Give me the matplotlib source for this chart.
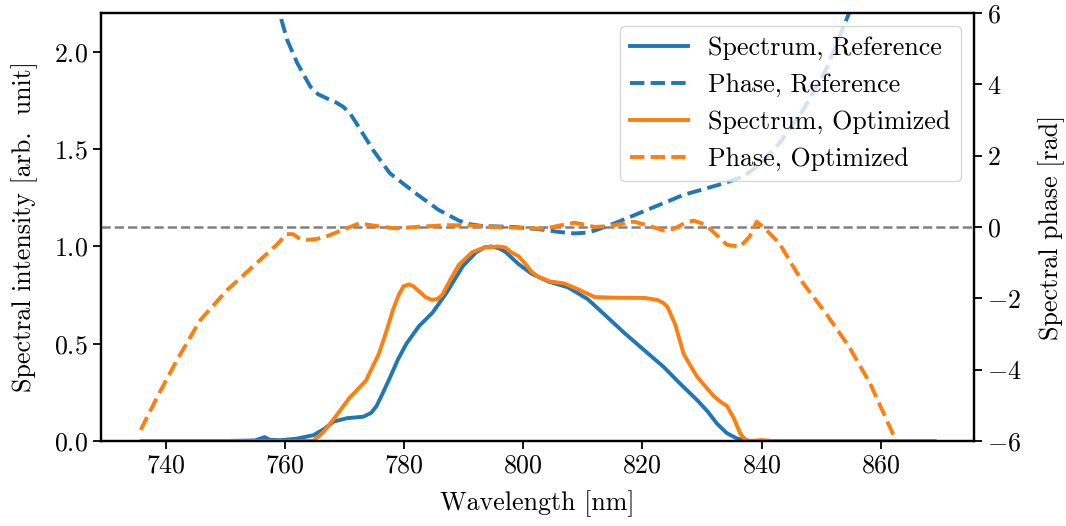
import matplotlib
matplotlib.use('Agg')
import matplotlib.pyplot as plt

# spectra (wavelength in nm, intensity in arb. unit)
wl_spec_ref = [736, 750, 755, 756.6, 757.5, 759.3, 762, 764.8, 766.5, 768.2, 770.4, 773.2,
               774.5, 775.4, 776.5, 777.7, 779, 780.4, 782.5, 784.8, 787.1, 789.9, 792.1,
               793.5, 794.6, 796, 797.1, 799.2, 801.4, 804.2, 807.5, 810.8, 814, 817, 820,
               823.6, 826.5, 829.2, 831, 832.5, 834.2, 835.8, 837.5, 845, 869]
spec_ref = [0, 0, 0.003, 0.02, 0.006, 0.004, 0.012, 0.03, 0.06, 0.10, 0.117, 0.125,
            0.145, 0.18, 0.25, 0.33, 0.42, 0.50, 0.59, 0.66, 0.76, 0.90, 0.97,
            0.995, 1.00, 0.99, 0.97, 0.91, 0.86, 0.82, 0.79, 0.73, 0.64, 0.555, 0.475,
            0.38, 0.29, 0.21, 0.15, 0.09, 0.04, 0.014, 0.0, 0, 0]

wl_spec_opt = [736, 764.7, 766.3, 768.1, 770.8, 773.6, 775.8, 777, 778.1, 779.1, 779.9,
               780.8, 781.6, 782.5, 783.6, 784.7, 785.6, 786.4, 787.8, 789.2, 791.4, 793.5,
               795.8, 797, 798, 799.2, 800.4, 801.4, 802.5, 804.5, 806.9, 809.2, 812, 815,
               818, 820.5, 822.5, 823.5, 824.2, 825.5, 826.9, 828, 829.2, 832, 833.2,
               834.2, 835.3, 836.4, 837.2, 838, 840, 842, 869]
spec_opt = [0, 0, 0.04, 0.108, 0.22, 0.31, 0.45, 0.56, 0.67, 0.75, 0.795,
            0.805, 0.795, 0.77, 0.74, 0.725, 0.73, 0.75, 0.83, 0.905, 0.97, 0.995,
            1.0, 0.995, 0.97, 0.95, 0.91, 0.87, 0.845, 0.82, 0.81, 0.78, 0.74, 0.737,
            0.736, 0.735, 0.725, 0.71, 0.69, 0.6, 0.45, 0.39, 0.33, 0.23, 0.20,
            0.18, 0.12, 0.04, 0.01, 0.0, 0.005, 0.0, 0]

# spectral phase (rad)
wl_phase_ref = [757, 758, 759.1, 760.4, 762.1, 764.3, 765.6, 767, 768.5, 769.8, 771, 772,
                774.8, 777.6, 782, 785.8, 789.2, 791, 793, 798.6, 803.6, 806, 808.6, 810.5,
                812, 815.3, 820.8, 826.9, 833.6, 837, 839.2, 841, 843, 847, 850.8, 854.7,
                856.5]
phase_ref = [7.5, 6.8, 6.0, 5.24, 4.59, 3.93, 3.72, 3.61, 3.5, 3.37, 3.17, 2.91,
             2.16, 1.51, 0.94, 0.48, 0.18, 0.08, 0.03, 0.0, -0.08, -0.14, -0.18, -0.16,
             -0.1, 0.1, 0.48, 0.9, 1.22, 1.42, 1.69, 1.98, 2.35, 3.28, 4.4, 6.0,
             7.0]

wl_phase_opt = [735.8, 738.6, 741.9, 745.8, 750.3, 755.8, 758.5, 760.3, 761.4, 762.4, 763.6,
                765.2, 766.9, 770.3, 772.5, 775.3, 778.6, 781.9, 786.9, 790.3, 795.8, 803.6,
                806, 808.6, 810.5, 812, 814.7, 816.5, 818.6, 821, 823.6, 825.3, 827, 828.6,
                830, 831.4, 834.2, 836.4, 838, 839.2, 840.8, 843, 847, 850.8, 854.7, 858.2,
                862, 863]
phase_opt = [-5.69, -4.76, -3.73, -2.61, -1.77, -0.93, -0.52, -0.2, -0.2, -0.32, -0.36,
             -0.34, -0.27, -0.04, 0.10, 0.03, -0.04, 0.0, 0.05, 0.05, 0.0, -0.05,
             0.04, 0.12, 0.06, 0.0, 0.03, 0.09, 0.15, 0.04, -0.10, -0.05, 0.1, 0.18,
             0.1, -0.06, -0.5, -0.55, -0.27, 0.15, -0.08, -0.46, -1.58, -2.42, -3.36, -4.38,
             -5.78, -6.3]

plt.rcParams['font.family'] = 'serif'
plt.rcParams['font.serif'] = ['cmr10']
plt.rcParams['mathtext.fontset'] = 'cm'
plt.rcParams['axes.formatter.use_mathtext'] = True
plt.rcParams['font.size'] = 18.7

fig, ax = plt.subplots(figsize=(10.66, 5.26), dpi=100)
fig.subplots_adjust(left=0.0947, right=0.9137, top=0.9753, bottom=0.1616)
ax2 = ax.twinx()

lw = 2.8
l1, = ax.plot(wl_spec_ref, spec_ref, color='C0', lw=lw, label='Spectrum, Reference')
l3, = ax.plot(wl_spec_opt, spec_opt, color='C1', lw=lw, label='Spectrum, Optimized')

ax2.axhline(0, color='gray', ls='--', lw=1.8)
l2, = ax2.plot(wl_phase_ref, phase_ref, color='C0', ls='--', lw=lw, label='Phase, Reference')
l4, = ax2.plot(wl_phase_opt, phase_opt, color='C1', ls='--', lw=lw, label='Phase, Optimized')

ax.set_ylim(0, 2.2)
ax.set_yticks([0.0, 0.5, 1.0, 1.5, 2.0])
ax2.set_ylim(-6, 6)
ax2.set_yticks([-6, -4, -2, 0, 2, 4, 6])
ax.set_xticks([740, 760, 780, 800, 820, 840, 860])

ax.set_xlabel('Wavelength [nm]', labelpad=9)
ax.set_ylabel('Spectral intensity [arb.  unit]', labelpad=11)
ax2.set_ylabel('Spectral phase [rad]', labelpad=12)

for a in (ax, ax2):
    a.tick_params(length=6, width=1.3)
    for s in a.spines.values():
        s.set_linewidth(1.6)

ax2.legend(handles=[l1, l2, l3, l4], loc='upper right', fontsize=18.7,
           handlelength=2.2)

fig.savefig('out.png', dpi=100)
